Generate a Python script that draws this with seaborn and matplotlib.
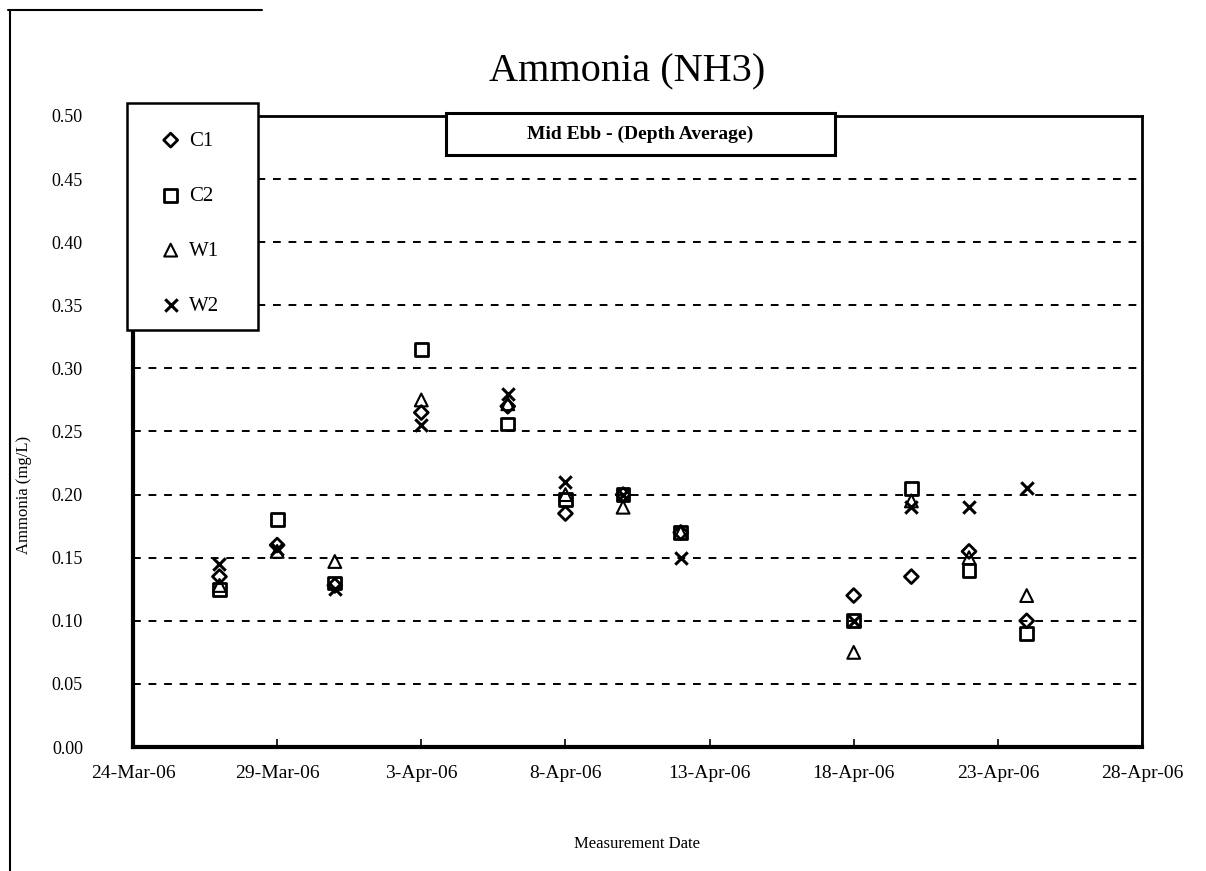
import matplotlib
matplotlib.use("Agg")
import matplotlib.pyplot as plt
from matplotlib.patches import Rectangle
from matplotlib.lines import Line2D
import seaborn as sns
import pandas as pd

# ---- data ----
dates = ['2006-03-27', '2006-03-29', '2006-03-31', '2006-04-03', '2006-04-06', '2006-04-08',
         '2006-04-10', '2006-04-12', '2006-04-18', '2006-04-20', '2006-04-22', '2006-04-24']
C1 = [0.135, 0.160, 0.128, 0.265, 0.270, 0.185, 0.200, 0.170, 0.120, 0.135, 0.155, 0.100]
C2 = [0.125, 0.180, 0.130, 0.315, 0.256, 0.196, 0.200, 0.170, 0.100, 0.205, 0.140, 0.090]
W1 = [0.128, 0.155, 0.147, 0.275, 0.272, 0.200, 0.190, 0.170, 0.075, 0.195, 0.150, 0.120]
W2 = [0.145, 0.157, 0.125, 0.255, 0.280, 0.210, 0.200, 0.150, 0.100, 0.190, 0.190, 0.205]
stations = ['C1', 'C2', 'W1', 'W2']
tick_dates = ['2006-03-24', '2006-03-29', '2006-04-03', '2006-04-08', '2006-04-13',
              '2006-04-18', '2006-04-23', '2006-04-28']
tick_labels = ['24-Mar-06', '29-Mar-06', '3-Apr-06', '8-Apr-06', '13-Apr-06',
               '18-Apr-06', '23-Apr-06', '28-Apr-06']
y_ticks = [0.00, 0.05, 0.10, 0.15, 0.20, 0.25, 0.30, 0.35, 0.40, 0.45, 0.50]

series = {'C1': C1, 'C2': C2, 'W1': W1, 'W2': W2}
df = pd.concat([pd.DataFrame({'date': pd.to_datetime(dates), 'value': v, 'station': s})
                for s, v in series.items()], ignore_index=True)

sns.set_theme(style="white")
plt.rcParams['font.family'] = ['Liberation Serif', 'DejaVu Serif']
plt.rcParams['text.color'] = 'black'
plt.rcParams['axes.labelcolor'] = 'black'
plt.rcParams['xtick.color'] = 'black'
plt.rcParams['ytick.color'] = 'black'

fig = plt.figure(figsize=(12.06, 8.71), dpi=100)
ax = fig.add_axes([133/1206, 1-747/871, (1142-133)/1206, (747-116)/871])

marker_map = {'C1': 'D', 'C2': 's', 'W1': '^', 'W2': 'x'}
size_map = {'C1': 50, 'C2': 85, 'W1': 85, 'W2': 80}
for s in stations:
    sub = df[df['station'] == s]
    if marker_map[s] == 'x':
        sns.scatterplot(data=sub, x='date', y='value', marker='x', color='black',
                        s=size_map[s], linewidth=2.2, ax=ax, label=s, zorder=3)
    else:
        sns.scatterplot(data=sub, x='date', y='value', marker=marker_map[s],
                        facecolor='none', edgecolor='black', s=size_map[s],
                        linewidth=2 if s != 'W1' else 1.5, ax=ax, label=s, zorder=3)

ax.set_xlim(pd.Timestamp(tick_dates[0]), pd.Timestamp(tick_dates[-1]))
ax.set_ylim(0, 0.5)
ax.set_xticks(pd.to_datetime(tick_dates))
ax.set_xticklabels(tick_labels, fontsize=14)
ax.set_yticks(y_ticks)
ax.set_yticklabels([f"{v:.2f}" for v in y_ticks], fontsize=13)
ax.tick_params(axis='x', direction='in', length=6, width=1.2, color='black', pad=13, bottom=True)
ax.tick_params(axis='y', direction='in', length=0, pad=36, left=True)

for v in y_ticks[1:-1]:
    ax.axhline(v, color='black', linestyle=(0, (4, 4)), linewidth=1.4, zorder=1)

for sp in ax.spines.values():
    sp.set_color('black')
    sp.set_linewidth(2)
ax.spines['bottom'].set_linewidth(3)
ax.spines['left'].set_linewidth(3)

ax.set_xlabel('Measurement Date', fontsize=12)
ax.set_ylabel('Ammonia (mg/L)', fontsize=12)
ax.xaxis.set_label_coords(0.5, -0.141)
ax.yaxis.set_label_coords(-0.100, 0.40)

# annotation box
ax.add_patch(Rectangle((0.310, 0.938), 0.386, 0.067, transform=ax.transAxes,
                       facecolor='white', edgecolor='black', linewidth=2.2,
                       clip_on=False, zorder=5))
ax.text(0.503, 0.971, 'Mid Ebb - (Depth Average)', transform=ax.transAxes,
        ha='center', va='center', fontsize=14, fontweight='bold', zorder=6)

# title
fig.text(0.52, 1-72/871, 'Ammonia (NH3)', ha='center', va='center', fontsize=29)

# legend: separate frame box + frameless legend
ax.add_patch(Rectangle((127/1206, 1-330/871), 131/1206, 227/871, transform=fig.transFigure,
                       facecolor='white', edgecolor='black', linewidth=1.8,
                       clip_on=False, zorder=9))
leg = ax.legend(loc='upper left', bbox_to_anchor=(154/1206, 1-131/871),
                bbox_transform=fig.transFigure, borderaxespad=0, frameon=False,
                fontsize=15, labelspacing=1.7, handletextpad=0.1, borderpad=0,
                handlelength=1.6)
leg.set_zorder(10)

# partial outer frame
fig.add_artist(Line2D([8/1206, 262/1206], [1-10/871, 1-10/871], color='black', linewidth=1.5))
fig.add_artist(Line2D([10/1206, 10/1206], [1-10/871, 0], color='black', linewidth=1.5))

fig.savefig('out.png', dpi=100)
